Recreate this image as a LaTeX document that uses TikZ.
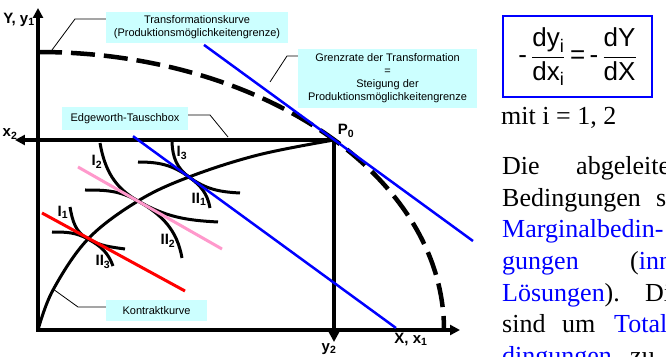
\documentclass[tikz,border=0pt]{standalone}
\usepackage{amsmath}
\usepackage{fontspec}
\setmainfont{Liberation Serif}
\setsansfont{Liberation Sans}
\usepackage{tikz}
\usetikzlibrary{arrows.meta, positioning, calc}
\usepackage{xcolor}
\definecolor{tangent}{RGB}{0,0,255}
\definecolor{budget}{RGB}{255,0,0}
\definecolor{pinkline}{RGB}{255,153,204}
\definecolor{boxbg}{RGB}{204,255,255}

\begin{document}
\begin{tikzpicture}[x=10pt, y=10pt,
  axisline/.style={line width=4pt, {Triangle[length=10pt,width=10pt]}-{Triangle[length=10pt,width=10pt]}},
  curve/.style={line width=3pt},
  lbl/.style={fill=boxbg, inner sep=0pt, align=center, font=\sffamily\fontsize{11}{13}\selectfont},
  leader/.style={line width=0.8pt},
  tag/.style={inner sep=0pt, font=\sffamily\bfseries\fontsize{15}{15}\selectfont},
  txt/.style={inner sep=0pt, anchor=base west, font=\rmfamily\fontsize{26}{30}\selectfont}]
  \useasboundingbox (-3.8,-2.6) rectangle (62.8,33.0);
  \fill[white] (-3.8,-2.6) rectangle (62.8,33.0);
  \clip (-3.8,-2.6) rectangle (62.8,33.0);

  \coordinate (O) at (0,0);
  \coordinate (P0) at (29.6,19.0);
  \coordinate (T1) at (15.1,15.3);
  \coordinate (T2) at (10.0,12.9);
  \coordinate (T3) at (5.0,9.1);

  % Achsen und Tauschbox
  \draw[axisline] (0,32.2) -- (O) -- (42.2,0);
  \draw[axisline] (-2.3,19.0) -- (P0) -- (29.6,-1.2);
  \node[tag] (Yy) at (-1.9,31.0) {Y, y\textsubscript{1}};
  \node[tag] (xb) at (-2.8,19.6) {x\textsubscript{2}};
  \node[tag] (Xx) at (37.3,-0.9) {X, x\textsubscript{1}};
  \node[tag] (yb) at (29.1,-1.9) {y\textsubscript{2}};
  \node[tag] (p0) at (30.8,19.9) {P\textsubscript{0}};

  % Transformationskurve
  \draw[line width=4.5pt, dash pattern=on 24pt off 9pt] (0,27.8) arc[start angle=90, end angle=0, x radius=40.6, y radius=27.8];

  % Kontraktkurve
  \draw[curve] plot[smooth, tension=0.6] coordinates {(0,0) (1.5,4.0) (5.0,9.1) (10.0,12.9) (15.1,15.3) (22.0,17.5) (29.6,19.0)};

  % Indifferenzkurven
  \draw[curve] (3.2,12.3) to[out=-80,in=151.4] (T3) to[out=-28.6,in=172] (8.7,8.1);
  \draw[curve] (1.4,9.8) to[out=0,in=151.4] (T3) to[out=-28.6,in=110] (7.5,6.4);
  \draw[curve] (6.2,18.7) to[out=-80,in=150.3] (T2) to[out=-29.7,in=177] (18.0,10.8);
  \draw[curve] (4.7,14.0) to[out=0,in=150.3] (T2) to[out=-29.7,in=100] (14.4,7.2);
  \draw[curve] (13.4,18.8) to[out=-88,in=143.9] (T1) to[out=-36.1,in=177] (20.2,13.7);
  \draw[curve] (10.0,16.8) to[out=0,in=143.9] (T1) to[out=-36.1,in=100] (17.2,12.2);
  \node[tag] (i1) at (2.5,11.8) {I\textsubscript{1}};
  \node[tag] (i2) at (5.9,16.8) {I\textsubscript{2}};
  \node[tag] (i3) at (14.4,17.7) {I\textsubscript{3}};
  \node[tag] (ii1) at (16.1,13.1) {II\textsubscript{1}};
  \node[tag] (ii2) at (13.0,8.9) {II\textsubscript{2}};
  \node[tag] (ii3) at (6.5,6.8) {II\textsubscript{3}};

  % Tangenten
  \draw[budget, line width=3pt] (0.4,11.7) -- (14.7,3.9);
  \draw[pinkline, line width=3pt] (4.0,16.3) -- (18.4,8.1);
  \draw[tangent, line width=2.5pt] (9.5,19.38) -- (35.8,0.2);
  \draw[tangent, line width=2.5pt] (16.6,28.51) -- (43.5,8.9);

  % Beschriftungen
  \node[lbl, minimum width=182pt, minimum height=31pt] (tk) at (15.9,30.25) {Transformationskurve\\(Produktionsmöglichkeitengrenze)};
  \node[lbl, minimum width=179pt, minimum height=59pt] (gr) at (34.95,25.15) {Grenzrate der Transformation\\=\\Steigung der\\Produktionsmöglichkeitengrenze};
  \node[lbl, minimum width=126pt, minimum height=23pt] (eb) at (8.7,21.15) {Edgeworth-Tauschbox};
  \node[lbl, minimum width=101pt, minimum height=21pt] (kk) at (11.85,1.95) {Kontraktkurve};
  \coordinate (tkend) at (1.4,28.0);
  \coordinate (grend) at (23.2,24.8);
  \coordinate (ebend) at (19.0,19.3);
  \coordinate (kkend) at (1.5,4.1);
  \draw[leader] ([yshift=8.5pt]tk.west) -- (3.7,31.1) -- (tkend);
  \draw[leader] ([yshift=22.5pt]gr.west) -- (24.9,27.4) -- (grend);
  \draw[leader] ([yshift=3.5pt]eb.east) -- (17.2,21.5) -- (ebend);
  \draw[leader] ([yshift=3.5pt]kk.west) -- (4.0,2.3) -- (kkend);

  % Formel und Text
  \node[draw=tangent, line width=1.5pt, minimum width=149pt, minimum height=81pt, inner sep=0pt, font=\sffamily\fontsize{26}{30}\selectfont] (fm) at (53.95,27.35)
    {-\,$\displaystyle\frac{\textsf{dy}_{\textsf{i}}}{\textsf{dx}_{\textsf{i}}}$\,=\,-\,$\displaystyle\frac{\textsf{dY}}{\textsf{dX}}$};
  \node[txt] (mit) at (46.3,20.5) {mit i = 1, 2};
  \node[txt] (l1a) at (46.4,15.5) {Die};
  \node[txt] (l1b) at (53.8,15.5) {abgeleiteten};
  \node[txt] (l2a) at (46.4,12.35) {Bedingungen};
  \node[txt] (l2b) at (61.8,12.35) {sind};
  \node[txt, tangent] (l3a) at (46.4,9.2) {Marginalbedin-};
  \node[txt, tangent] (l4a) at (46.4,6.05) {gungen};
  \node[txt] (l4b) at (59.2,6.05) {(\textcolor{tangent}{inneren}};
  \node[txt] (l5a) at (46.4,2.9) {\textcolor{tangent}{Lösungen}).};
  \node[txt] (l5b) at (60.7,2.9) {Die};
  \node[txt] (l6a) at (46.4,-0.25) {sind};
  \node[txt] (l6b) at (52.4,-0.25) {um};
  \node[txt, tangent] (l6c) at (57.6,-0.25) {Totalbe-};
  \node[txt, tangent] (l7a) at (46.4,-3.4) {dingungen};
  \node[txt] (l7b) at (59.2,-3.4) {zu};
\end{tikzpicture}
\end{document}
